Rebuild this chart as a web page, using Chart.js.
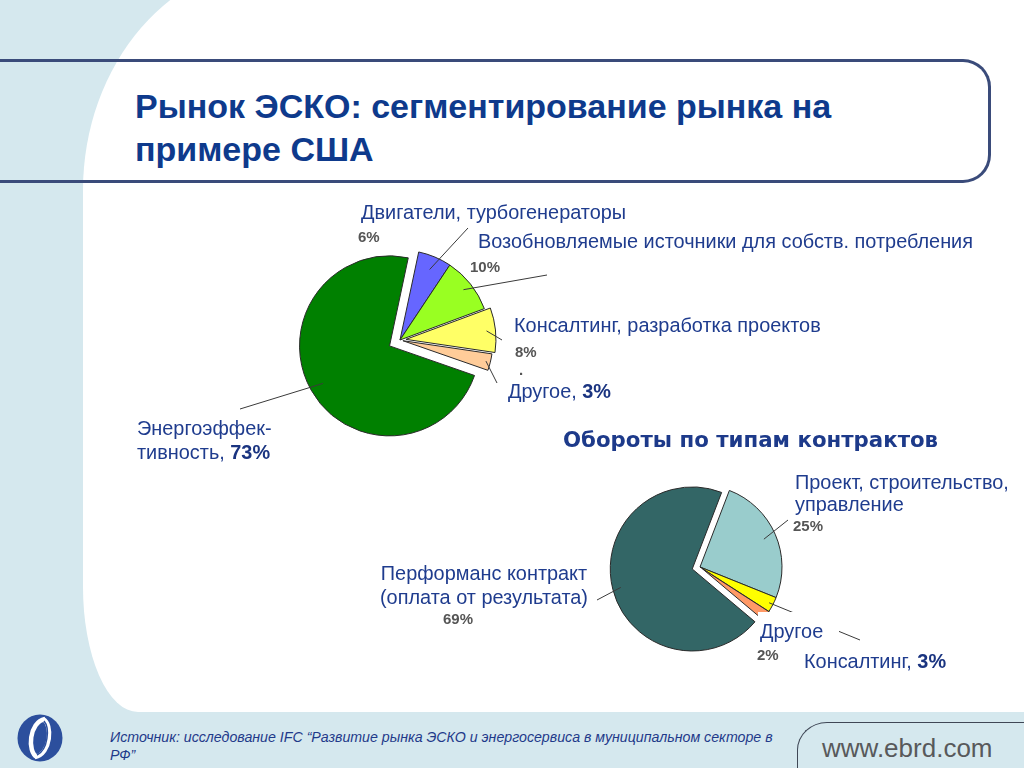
<!DOCTYPE html>
<html lang="ru">
<head>
  <meta charset="UTF-8">
  <title>Рынок ЭСКО: сегментирование рынка на примере США</title>
  <script src="https://cdn.jsdelivr.net/npm/chart.js"></script>
  <style>
    html, body { margin: 0; padding: 0; }
    body { width: 1024px; height: 768px; position: relative; overflow: hidden; background: #d5e8ee; font-family: 'Liberation Sans', Arial, sans-serif; }

    /* slide background */
    .sheet { position: absolute; left: 83px; top: -40px; width: 1000px; height: 752px; background: #fff;
             border-radius: 200px 0 0 55px / 230px 0 0 125px; }
    .title-box { position: absolute; left: -10px; top: 59px; width: 998px; height: 118px;
                 border: 3px solid #3a4b7a; border-left: none; border-radius: 0 28px 28px 0; }
    h1 { position: absolute; left: 135px; top: 85px; margin: 0; font-size: 34px; line-height: 43px; font-weight: bold; color: #0e3a8c; }

    canvas { position: absolute; }
    #energyChart { left: 220px; top: 190px; }
    #contractChart { left: 520px; top: 447px; }

    /* labels */
    .lbl { position: absolute; font-size: 19.9px; line-height: 20px; color: #1f3c8e; white-space: nowrap; }
    .lbl b { color: #1a3480; }
    .pct { position: absolute; font-size: 15px; line-height: 16px; font-weight: bold; color: #555; }
    .sub { position: absolute; font-family: 'DejaVu Sans', sans-serif; font-weight: bold; font-size: 21.3px; line-height: 24px; color: #1d3a8a; white-space: nowrap; }

    /* footer */
    .logo { position: absolute; left: 17px; top: 714px; }
    .source { position: absolute; left: 110px; top: 728px; font-size: 14.2px; line-height: 18px; font-style: italic; color: #1f3a8a; }
    .web { position: absolute; left: 797px; top: 722px; width: 300px; height: 80px; border-top: 1.5px solid #3f4756; border-left: 1.5px solid #3f4756; border-top-left-radius: 30px 28px; }
    .web span { position: absolute; left: 24px; top: 10px; font-size: 26px; line-height: 30px; color: #58595b; }
  </style>
</head>
<body>
  <div class="sheet"></div>
  <div class="title-box"></div>
  <h1>Рынок ЭСКО: сегментирование рынка на<br>примере США</h1>

  <canvas id="energyChart" width="360" height="300"></canvas>
  <canvas id="contractChart" width="360" height="240"></canvas>

  <div class="lbl" style="left:361px;top:202px">Двигатели, турбогенераторы</div>
  <div class="lbl" style="left:478px;top:231px">Возобновляемые источники для собств. потребления</div>
  <div class="lbl" style="left:514px;top:315px">Консалтинг, разработка проектов</div>
  <div class="lbl" style="left:508px;top:381px">Другое, <b class="v" data-set="energy" data-i="3"></b></div>
  <div class="lbl" style="left:137px;top:416px;line-height:24px">Энергоэффек-<br>тивность, <b class="v" data-set="energy" data-i="4"></b></div>
  <div class="pct" style="left:519px;top:362px">.</div>

  <div class="sub" style="left:563px;top:428px">Обороты по типам контрактов</div>
  <div class="lbl" style="left:795px;top:471px;line-height:22px">Проект, строительство,<br>управление</div>
  <div class="lbl" style="left:371px;top:561px;width:226px;line-height:24px;text-align:center">Перформанс контракт<br>(оплата от результата)</div>
  <div class="lbl" style="left:758px;top:612px;padding:9px 16px 0 2px;background:#fff">Другое</div>
  <div class="lbl" style="left:804px;top:651px">Консалтинг, <b class="v" data-set="contract" data-i="1"></b></div>

  <div id="pcts"></div>

  <svg class="logo" width="46" height="48" viewBox="0 0 46 48">
    <ellipse cx="23" cy="24" rx="22.5" ry="23.5" fill="#2c4f9d"/>
    <path d="M28 5 C12 8 10 38 20 43" fill="none" stroke="#fff" stroke-width="4.5"/>
    <path d="M26 5 C36 10 34 40 18 43" fill="none" stroke="#fff" stroke-width="4.5"/>
    <path d="M27 7 C33 14 31 36 20 41" fill="none" stroke="#2c4f9d" stroke-width="1.5"/>
  </svg>
  <div class="source">Источник: исследование IFC “Развитие рынка ЭСКО и энергосервиса в муниципальном секторе в<br>РФ”</div>
  <div class="web"><span>www.ebrd.com</span></div>

  <script>
    // ESCO market segments (USA)
    const energyLabels = ['Двигатели, турбогенераторы', 'Возобновляемые источники для собств. потребления',
                          'Консалтинг, разработка проектов', 'Другое', 'Энергоэффективность'];
    const energyValues = [6, 10, 8, 3, 73];
    const energyColors = ['#6666ff', '#99ff22', '#ffff66', '#ffcc99', '#008000'];

    // turnover by contract type
    const contractLabels = ['Проект, строительство, управление', 'Консалтинг', 'Другое',
                            'Перформанс контракт (оплата от результата)'];
    const contractValues = [25, 3, 2, 69];
    const contractColors = ['#99cccc', '#ffff00', '#ff9966', '#336666'];

    // slice explosion (px) and leader lines / percent labels (page coords)
    const energyShift = [0, 0, 6, 3, 12];
    const contractShift = [0, 0, 3, 8];
    const energyLeaders = [
      { i: 0, from: 0.85, to: [468, 228] },
      { i: 1, from: 0.9, to: [547, 275] },
      { i: 2, from: 0.9, to: [502, 340] },
      { i: 3, from: 0.95, to: [497, 383] },
      { i: 4, from: 0.85, to: [240, 409] }
    ];
    const contractLeaders = [
      { i: 0, from: 0.85, to: [788, 520] },
      { i: 1, from: 0.95, to: [860, 640] },
      { i: 3, from: 0.9, to: [597, 600] }
    ];
    const energyPct = [[0, 358, 229], [1, 470, 259], [2, 515, 344]];
    const contractPct = [[0, 793, 518], [3, 443, 611], [2, 757, 647]];

    const sets = { energy: energyValues, contract: contractValues };
    document.querySelectorAll('.v').forEach(el => {
      el.textContent = sets[el.dataset.set][+el.dataset.i] + '%';
    });
    function addPct(list, values) {
      const box = document.getElementById('pcts');
      list.forEach(([i, x, y]) => {
        const d = document.createElement('div');
        d.className = 'pct';
        d.style.left = x + 'px'; d.style.top = y + 'px';
        d.textContent = values[i] + '%';
        box.appendChild(d);
      });
    }
    addPct(energyPct, energyValues);
    addPct(contractPct, contractValues);

    // move each slice out along its middle angle
    const explodePlugin = {
      id: 'explode',
      afterDatasetUpdate(chart, args, opts) {
        args.meta.data.forEach((arc, i) => {
          const s = opts.shift[i] || 0;
          const mid = (arc.startAngle + arc.endAngle) / 2;
          arc.x += Math.cos(mid) * s;
          arc.y += Math.sin(mid) * s;
        });
      }
    };

    // thin leader lines from slices to their labels
    const leaderPlugin = {
      id: 'leaders',
      afterDatasetsDraw(chart, args, opts) {
        const ctx = chart.ctx;
        const arcs = chart.getDatasetMeta(0).data;
        const cs = getComputedStyle(chart.canvas);
        const left = parseFloat(cs.left);
        const top = parseFloat(cs.top);
        ctx.save();
        ctx.strokeStyle = '#3a3a3a';
        ctx.lineWidth = 1;
        opts.lines.forEach(l => {
          const a = arcs[l.i];
          const mid = (a.startAngle + a.endAngle) / 2;
          const r = a.outerRadius * l.from;
          ctx.beginPath();
          ctx.moveTo(a.x + Math.cos(mid) * r, a.y + Math.sin(mid) * r);
          ctx.lineTo(l.to[0] - left, l.to[1] - top);
          ctx.stroke();
        });
        ctx.restore();
      }
    };

    function pie(id, labels, values, colors, radius, rotation, shift, lines) {
      return new Chart(document.getElementById(id), {
        type: 'pie',
        data: { labels: labels, datasets: [{ data: values, backgroundColor: colors, borderColor: '#2a2a2a', borderWidth: 1, hoverOffset: 0 }] },
        options: {
          responsive: false,
          animation: false,
          radius: radius,
          rotation: rotation,
          layout: { padding: 0 },
          events: [],
          plugins: {
            legend: { display: false },
            tooltip: { enabled: false },
            explode: { shift: shift },
            leaders: { lines: lines }
          }
        },
        plugins: [explodePlugin, leaderPlugin]
      });
    }

    pie('energyChart', energyLabels, energyValues, energyColors, 90, 12, energyShift, energyLeaders);
    pie('contractChart', contractLabels, contractValues, contractColors, 82, 21, contractShift, contractLeaders);
  </script>
</body>
</html>
